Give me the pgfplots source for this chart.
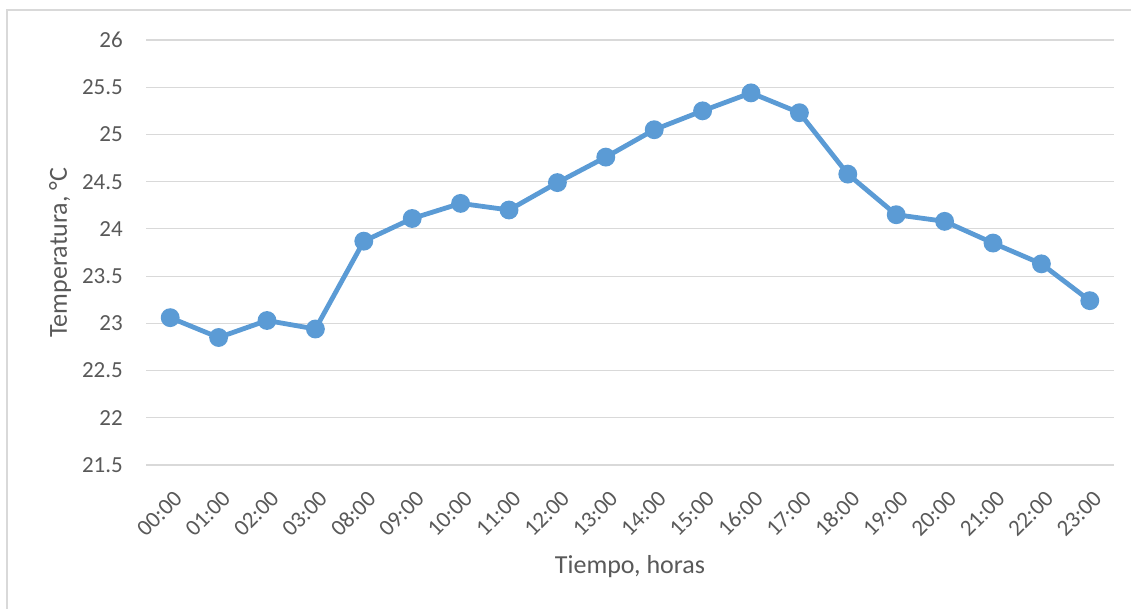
\documentclass[border=0pt]{standalone}
\usepackage{pgfplots}
\pgfplotsset{compat=1.18}
\usepackage{fontspec}
\setmainfont{Carlito}
\definecolor{lineblue}{HTML}{5B9BD5}
\definecolor{gridgray}{HTML}{D9D9D9}
\definecolor{textgray}{HTML}{595959}
\begin{document}
\begin{tikzpicture}[x=1pt,y=1pt]
\useasboundingbox (0,0) rectangle (1131,608);
\draw[gridgray, line width=1.2pt] (7,-20) -- (7,598) -- (1160,598);
\begin{axis}[
  at={(146pt,143pt)}, anchor=south west,
  scale only axis, width=968pt, height=425pt,
  xmin=-0.5, xmax=19.5, ymin=21.5, ymax=26,
  ytick={21.5,22,...,26},
  xtick={0,...,19},
  xticklabels={00:00,01:00,02:00,03:00,08:00,09:00,10:00,11:00,12:00,13:00,14:00,15:00,16:00,17:00,18:00,19:00,20:00,21:00,22:00,23:00},
  axis line style={draw=none},
  major tick length=0pt,
  ymajorgrids, grid style={gridgray, line width=1.2pt},
  /pgf/number format/assume math mode=true,
  yticklabel style={font=\fontsize{23}{27}\selectfont, text=textgray, anchor=east, inner sep=0pt, xshift=-23pt},
  xticklabel style={font=\fontsize{23}{27}\selectfont, text=textgray, xshift=8pt, yshift=-30pt, rotate=45, anchor=east, inner sep=0pt},
  ylabel={Temperatura, °C},
  xlabel={Tiempo, horas},
  ylabel style={font=\fontsize{26}{30}\selectfont, text=textgray, at={(axis description cs:-0.0888,0.5)}, anchor=center, rotate=0},
  xlabel style={font=\fontsize{26}{30}\selectfont, text=textgray, at={(axis description cs:0.5,-0.24)}, anchor=center},
  clip=false,
]
\addplot[lineblue, line width=4.8pt, mark=*, mark size=7pt, mark options={fill=lineblue, draw=none}] coordinates {
(0,23.06) (1,22.85) (2,23.03) (3,22.94) (4,23.87) (5,24.11) (6,24.27) (7,24.20) (8,24.49) (9,24.76)
(10,25.05) (11,25.25) (12,25.44) (13,25.23) (14,24.58) (15,24.15) (16,24.08) (17,23.85) (18,23.63) (19,23.24)
};
\end{axis}
\end{tikzpicture}
\end{document}
